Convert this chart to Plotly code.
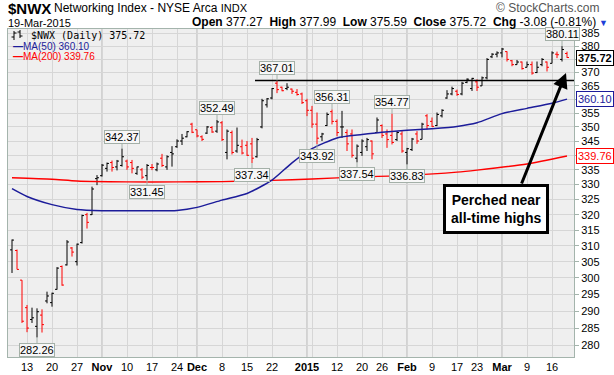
import math
import plotly.graph_objects as go

# ---------------- data ----------------
dates = [
    "2014-10-08", "2014-10-09", "2014-10-10", "2014-10-13", "2014-10-14", "2014-10-15", "2014-10-16",
    "2014-10-17", "2014-10-20", "2014-10-21", "2014-10-22", "2014-10-23", "2014-10-24", "2014-10-27",
    "2014-10-28", "2014-10-29", "2014-10-30", "2014-10-31",
    "2014-11-03", "2014-11-04", "2014-11-05", "2014-11-06", "2014-11-07", "2014-11-10", "2014-11-11",
    "2014-11-12", "2014-11-13", "2014-11-14", "2014-11-17", "2014-11-18", "2014-11-19", "2014-11-20",
    "2014-11-21", "2014-11-24", "2014-11-25", "2014-11-26", "2014-11-28",
    "2014-12-01", "2014-12-02", "2014-12-03", "2014-12-04", "2014-12-05", "2014-12-08", "2014-12-09",
    "2014-12-10", "2014-12-11", "2014-12-12", "2014-12-15", "2014-12-16", "2014-12-17", "2014-12-18",
    "2014-12-19", "2014-12-22", "2014-12-23", "2014-12-24", "2014-12-26", "2014-12-29", "2014-12-30",
    "2014-12-31",
    "2015-01-02", "2015-01-05", "2015-01-06", "2015-01-07", "2015-01-08", "2015-01-09", "2015-01-12",
    "2015-01-13", "2015-01-14", "2015-01-15", "2015-01-16", "2015-01-20", "2015-01-21", "2015-01-22",
    "2015-01-23", "2015-01-26", "2015-01-27", "2015-01-28", "2015-01-29", "2015-01-30",
    "2015-02-02", "2015-02-03", "2015-02-04", "2015-02-05", "2015-02-06", "2015-02-09", "2015-02-10",
    "2015-02-11", "2015-02-12", "2015-02-13", "2015-02-17", "2015-02-18", "2015-02-19", "2015-02-20",
    "2015-02-23", "2015-02-24", "2015-02-25", "2015-02-26", "2015-02-27",
    "2015-03-02", "2015-03-03", "2015-03-04", "2015-03-05", "2015-03-06", "2015-03-09", "2015-03-10",
    "2015-03-11", "2015-03-12", "2015-03-13", "2015-03-16", "2015-03-17", "2015-03-18", "2015-03-19",
]

opens = [
    308.7, 308.5, 299.3, 291.0, 287.5, 285.5, 288.8, 293.0, 292.5, 296.5, 303.5, 304.0, 309.3, 305.0,
    311.0, 320.0, 320.0, 332.0,
    333.0, 335.5, 337.5, 336.0, 336.5, 338.0, 337.5, 333.8, 335.0, 333.0, 335.8, 335.0, 339.0, 336.0,
    341.0, 343.0, 345.0, 346.5, 351.0,
    349.0, 346.5, 347.8, 349.8, 348.5, 351.5, 341.0, 348.0, 341.5, 343.0, 343.5, 344.0, 339.5, 350.0,
    358.0, 360.5, 366.0, 364.5, 364.0, 363.8, 362.6, 362.0,
    359.5, 356.0, 351.0, 346.5, 350.5, 355.5, 352.0, 350.0, 348.0, 347.5, 339.0, 341.0, 343.0, 345.0,
    348.0, 350.5, 347.5, 347.0, 345.5, 347.5,
    341.0, 342.0, 347.5, 345.6, 354.0, 352.0, 350.5, 354.0, 360.5, 362.0, 363.0, 362.0, 366.3, 364.0,
    366.5, 365.0, 368.0, 376.0, 377.0,
    377.5, 378.0, 374.5, 373.0, 374.0, 372.0, 373.0, 370.0, 373.0, 374.0, 373.5, 377.0, 375.0, 377.27,
]
highs = [
    312.0, 308.8, 299.3, 291.8, 291.0, 290.8, 290.5, 295.8, 295.5, 303.3, 303.8, 311.8, 309.6, 310.7,
    320.0, 320.6, 329.3, 333.2,
    337.0, 337.5, 338.2, 338.4, 342.37, 338.5, 338.4, 336.1, 335.6, 337.0, 337.0, 337.5, 340.5, 340.0,
    343.2, 345.6, 347.5, 348.5, 351.5,
    349.0, 347.0, 350.3, 350.3, 352.49, 352.1, 349.1, 348.7, 349.8, 345.5, 345.0, 346.1, 346.1, 360.2,
    360.5, 364.2, 367.01, 364.7, 366.0, 364.0, 363.8, 362.5,
    360.2, 357.6, 355.2, 347.9, 355.2, 356.31, 352.7, 355.8, 349.1, 349.1, 343.8, 345.6, 346.1, 345.2,
    353.4, 350.9, 349.1, 354.77, 348.5, 348.5,
    342.6, 346.1, 348.5, 351.5, 354.6, 353.4, 355.2, 356.4, 363.4, 364.7, 363.6, 366.5, 367.8, 368.0,
    367.4, 368.5, 375.5, 377.4, 378.1,
    379.4, 378.1, 374.8, 374.8, 374.2, 374.2, 374.2, 374.2, 375.5, 374.2, 378.1, 378.0, 380.11, 377.99,
]
lows = [
    301.5, 302.6, 286.5, 283.8, 286.5, 282.26, 283.7, 292.3, 291.3, 296.4, 297.6, 303.8, 306.6, 303.8,
    310.7, 315.5, 319.9, 329.8,
    332.7, 334.4, 334.4, 334.8, 336.1, 335.0, 333.8, 333.3, 331.8, 331.45, 334.9, 334.5, 336.0, 335.0,
    336.1, 342.6, 343.6, 346.3, 347.8,
    346.3, 345.0, 347.5, 347.9, 347.9, 345.0, 338.6, 340.3, 340.9, 340.3, 339.8, 337.34, 339.2, 349.5,
    357.0, 360.0, 362.3, 363.0, 363.4, 362.0, 361.4, 358.3,
    353.9, 349.7, 343.92, 345.0, 350.3, 350.9, 346.7, 346.1, 341.5, 339.2, 337.54, 339.8, 341.5, 338.6,
    347.9, 346.1, 342.6, 343.8, 345.0, 340.9,
    336.83, 341.5, 344.0, 345.6, 349.1, 350.0, 350.3, 353.4, 360.2, 361.5, 361.3, 361.5, 366.0, 363.1,
    363.1, 365.0, 367.4, 375.5, 375.8,
    375.8, 374.2, 372.4, 373.0, 371.1, 372.0, 369.2, 369.8, 372.4, 370.4, 373.5, 375.5, 374.2, 375.59,
]
closes = [
    311.8, 302.6, 287.0, 285.0, 288.0, 289.8, 286.0, 294.5, 295.3, 303.0, 297.8, 311.2, 308.0, 310.5,
    319.7, 317.5, 328.5, 332.3,
    336.6, 337.2, 335.8, 338.0, 339.5, 336.0, 335.5, 336.0, 332.5, 336.5, 335.8, 337.0, 336.5, 339.5,
    340.5, 345.0, 346.0, 348.3, 348.1,
    346.8, 345.6, 350.0, 348.2, 351.8, 345.5, 348.5, 341.0, 343.5, 340.8, 340.0, 339.0, 345.5, 359.5,
    360.2, 364.0, 363.6, 363.2, 364.5, 363.0, 361.8, 358.8,
    356.0, 351.0, 346.0, 347.5, 354.5, 352.0, 348.0, 350.0, 344.0, 340.0, 343.2, 345.0, 345.5, 340.5,
    352.5, 347.0, 345.5, 344.5, 348.0, 341.5,
    342.3, 345.7, 345.0, 351.0, 350.5, 350.2, 354.5, 356.0, 362.0, 364.0, 361.8, 366.0, 367.5, 367.8,
    364.5, 368.0, 375.0, 377.0, 377.5,
    379.0, 375.0, 373.0, 374.0, 371.5, 373.0, 369.8, 372.0, 375.0, 372.0, 377.5, 376.8, 378.8, 375.72,
]

ma50_dates = ["2014-10-08", "2014-10-13", "2014-10-20", "2014-10-27", "2014-11-03", "2014-11-10",
              "2014-11-17", "2014-11-24", "2014-12-01", "2014-12-08", "2014-12-15", "2014-12-22",
              "2014-12-29", "2015-01-05", "2015-01-12", "2015-01-20", "2015-01-26", "2015-02-02",
              "2015-02-09", "2015-02-17", "2015-02-23", "2015-03-02", "2015-03-09", "2015-03-16",
              "2015-03-19"]
ma50_vals = [328.6, 326.0, 323.3, 321.7, 321.3, 321.3, 321.3, 321.4, 322.4, 324.8, 327.0, 331.5,
             337.4, 342.3, 346.1, 347.3, 348.1, 348.8, 349.4, 350.2, 351.5, 354.8, 356.7, 358.6,
             360.10]

ma200_dates = ["2014-10-08", "2014-10-20", "2014-10-27", "2014-11-10", "2014-11-24", "2014-12-08",
               "2014-12-22", "2015-01-05", "2015-01-20", "2015-02-02", "2015-02-17", "2015-02-23",
               "2015-03-09", "2015-03-19"]
ma200_vals = [332.3, 331.8, 331.2, 330.9, 330.9, 331.0, 331.4, 331.9, 332.6, 333.1, 334.2, 334.9,
              337.0, 339.76]

tick_dates = ["2014-10-13", "2014-10-20", "2014-10-27", "2014-11-03", "2014-11-10", "2014-11-17",
              "2014-11-24", "2014-12-01", "2014-12-08", "2014-12-15", "2014-12-22", "2015-01-02",
              "2015-01-05", "2015-01-12", "2015-01-20", "2015-01-26", "2015-02-02", "2015-02-09",
              "2015-02-17", "2015-02-23", "2015-03-02", "2015-03-09", "2015-03-16"]
tick_text = ["13", "20", "27", "<b>Nov</b>", "10", "17", "24", "<b>Dec</b>", "8", "15", "22",
             "<b>2015</b>", "", "12", "20", "26", "<b>Feb</b>", "9", "17", "23", "<b>Mar</b>", "9", "16"]
month_dates = ["2014-11-03", "2014-12-01", "2015-01-02", "2015-02-02", "2015-03-02"]

y_ticks = list(range(280, 390, 5))
y_ticks_hidden = [340, 360, 375]   # covered by the value tags

high_labels = [("2014-11-07", 342.37), ("2014-12-05", 352.49), ("2014-12-23", 367.01),
               ("2015-01-09", 356.31), ("2015-01-28", 354.77), ("2015-03-18", 380.11)]
low_labels = [("2014-10-15", 282.26), ("2014-11-14", 331.45), ("2014-12-16", 337.34),
              ("2015-01-06", 343.92), ("2015-01-16", 337.54), ("2015-02-02", 336.83)]

resistance_level = 367.01
resistance_start = "2014-12-17"

last_close, ma50_last, ma200_last = 375.72, 360.10, 339.76

# ---------------- figure ----------------
FONT = "Liberation Sans, Arial, sans-serif"
W, H = 614, 375
ML, MR, MT, MB = 8, 40, 29, 18
plot_h = H - MT - MB
x_range = [-0.8, 112.4]
y_range = [math.log10(276.7), math.log10(386.83)]

n = len(dates)
up_idx, dn_idx = [], []
for i in range(n):
    prev = closes[i - 1] if i > 0 else opens[i]
    (up_idx if closes[i] >= prev else dn_idx).append(i)


def ohlc_trace(idx, color):
    return go.Ohlc(
        x=[dates[i] for i in idx], open=[opens[i] for i in idx], high=[highs[i] for i in idx],
        low=[lows[i] for i in idx], close=[closes[i] for i in idx],
        increasing=dict(line=dict(color=color, width=1)),
        decreasing=dict(line=dict(color=color, width=1)),
        tickwidth=0.4, hoverinfo="skip", showlegend=False,
    )


fig = go.Figure()
fig.add_trace(go.Scatter(x=ma200_dates, y=ma200_vals, mode="lines",
                         line=dict(color="#ff0000", width=1.4, shape="spline", smoothing=0.6),
                         hoverinfo="skip", showlegend=False))
fig.add_trace(go.Scatter(x=ma50_dates, y=ma50_vals, mode="lines",
                         line=dict(color="#1c1c9a", width=1.5, shape="spline", smoothing=0.6),
                         hoverinfo="skip", showlegend=False))
fig.add_trace(ohlc_trace(up_idx, "#000000"))
fig.add_trace(ohlc_trace(dn_idx, "#ff0000"))


def py(ypx):
    return (H - MB - ypx) / plot_h


def px(xpx):
    return (xpx - ML) / (W - ML - MR)


shapes = []
for d in month_dates:
    xi = dates.index(d)
    shapes.append(dict(type="line", xref="x", yref="paper", x0=xi, x1=xi, y0=0, y1=1,
                       line=dict(color="#b4b4b4", width=1), layer="below"))
shapes.append(dict(type="line", xref="x", yref="y", x0=dates.index(resistance_start) - 0.4,
                   x1=x_range[1], y0=resistance_level, y1=resistance_level,
                   line=dict(color="#000000", width=1.5)))
# small OHLC icon in the in-plot legend
for (xc, top, bot, lt, rt) in [(14, 31, 40, 37, 33), (20, 30, 38, 32, 36)]:
    for seg in [(xc, top, xc, bot), (xc - 2.5, lt, xc, lt), (xc, rt, xc + 2.5, rt)]:
        shapes.append(dict(type="line", xref="paper", yref="paper",
                           x0=px(seg[0]), y0=py(seg[1]), x1=px(seg[2]), y1=py(seg[3]),
                           line=dict(color="#000", width=1)))

LBL_BORDER = "#a4b0a8"
ann = []
for d, v in high_labels:
    ann.append(dict(x=d, y=math.log10(v), xref="x", yref="y", text=f"{v:.2f}", showarrow=True,
                    arrowhead=0, arrowwidth=1, arrowcolor=LBL_BORDER, ax=0, ay=-12,
                    font=dict(family=FONT, size=11, color="#000"), bgcolor="#f7f7f7",
                    bordercolor=LBL_BORDER, borderwidth=1, borderpad=0))
for d, v in low_labels:
    ann.append(dict(x=d, y=math.log10(v), xref="x", yref="y", text=f"{v:.2f}", showarrow=True,
                    arrowhead=0, arrowwidth=1, arrowcolor=LBL_BORDER, ax=0, ay=12,
                    font=dict(family=FONT, size=11, color="#000"), bgcolor="#f7f7f7",
                    bordercolor=LBL_BORDER, borderwidth=1, borderpad=0))

# right-hand value tags
for v, col, bold in [(last_close, "#000000", True), (ma50_last, "#1c1c9a", False),
                     (ma200_last, "#ff0000", False)]:
    txt = f"<b>{v:.2f}</b>" if bold else f"{v:.2f}"
    ann.append(dict(x=1, xref="paper", y=math.log10(v), yref="y", xanchor="left", xshift=2,
                    text=txt, showarrow=False, font=dict(family=FONT, size=11, color=col),
                    bgcolor="#ffffff", bordercolor=col, borderwidth=1, borderpad=1))

# header
ann += [
    dict(x=px(7), y=py(8), xref="paper", yref="paper", xanchor="left", yanchor="middle",
         text="<b>$NWX</b>", showarrow=False, font=dict(family=FONT, size=15, color="#000"),
         borderpad=0),
    dict(x=px(53), y=py(8), xref="paper", yref="paper", xanchor="left", yanchor="middle",
         text="Networking Index - NYSE Arca <span style='font-size:11px'>INDX</span>",
         showarrow=False, font=dict(family=FONT, size=12, color="#000"), borderpad=0),
    dict(x=px(601), y=py(8), xref="paper", yref="paper", xanchor="right", yanchor="middle",
         text="© StockCharts.com", showarrow=False, font=dict(family=FONT, size=12, color="#555"),
         borderpad=0),
    dict(x=px(7), y=py(22.5), xref="paper", yref="paper", xanchor="left", yanchor="middle",
         text="19-Mar-2015", showarrow=False, font=dict(family=FONT, size=11, color="#000"),
         borderpad=0),
    dict(x=px(597), y=py(22), xref="paper", yref="paper", xanchor="right", yanchor="middle",
         text="<b>Open</b> 377.27  <b>High</b> 377.99  <b>Low</b> 375.59  <b>Close</b> 375.72  "
              "<b>Chg</b> -3.08 (-0.81%)",
         showarrow=False, font=dict(family=FONT, size=12, color="#000"), borderpad=0),
    dict(x=px(598), y=py(22.5), xref="paper", yref="paper", xanchor="left", yanchor="middle",
         text="▼", showarrow=False, font=dict(family=FONT, size=9, color="#1f3fd8"), borderpad=0),
    # in-plot legend
    dict(x=px(29), y=py(35), xref="paper", yref="paper", xanchor="left", yanchor="middle",
         text="$NWX (Daily) 375.72", showarrow=False,
         font=dict(family="DejaVu Sans Mono, monospace", size=10, color="#000")),
    dict(x=px(11), y=py(46), xref="paper", yref="paper", xanchor="left", yanchor="middle",
         text="<b>—</b>MA(50) 360.10", showarrow=False,
         font=dict(family=FONT, size=10, color="#1c1c9a")),
    dict(x=px(11), y=py(57), xref="paper", yref="paper", xanchor="left", yanchor="middle",
         text="<b>—</b>MA(200) 339.76", showarrow=False,
         font=dict(family=FONT, size=10, color="#ff0000")),
    # callout
    dict(x=px(566), y=py(73), xref="paper", yref="paper", text="", showarrow=True,
         arrowhead=2, arrowsize=1, arrowwidth=3, arrowcolor="#000", ax=-45, ay=112, standoff=0),
    dict(x=px(496), y=py(209), xref="paper", yref="paper", xanchor="center", yanchor="middle",
         text="<b>Perched near<br>all-time highs</b>", showarrow=False,
         font=dict(family=FONT, size=14, color="#000"), bgcolor="#ffffff",
         bordercolor="#000", borderwidth=3, borderpad=5),
]

fig.update_layout(
    width=W, height=H, margin=dict(l=ML, r=MR, t=MT, b=MB, autoexpand=False),
    paper_bgcolor="#ffffff", plot_bgcolor="#efefef",
    showlegend=False, shapes=shapes, annotations=ann,
    xaxis=dict(type="category", categoryorder="array", categoryarray=dates, range=x_range,
               tickmode="array", tickvals=tick_dates, ticktext=tick_text, automargin=False,
               showgrid=True, gridcolor="#d6d6d6", gridwidth=1, ticks="",
               tickfont=dict(family=FONT, size=11, color="#000"),
               showline=True, mirror=True, linecolor="#a4b4ac", linewidth=1,
               rangeslider=dict(visible=False), zeroline=False, fixedrange=True),
    yaxis=dict(type="log", side="right", range=y_range, tickmode="array", tickvals=y_ticks,
               ticktext=["" if v in y_ticks_hidden else str(v) for v in y_ticks],
               automargin=False, showgrid=True, gridcolor="#d6d6d6",
               ticks="outside", ticklen=4, tickcolor="#a4b4ac",
               tickfont=dict(family=FONT, size=11, color="#000"),
               showline=True, mirror=True, linecolor="#a4b4ac", linewidth=1, zeroline=False,
               fixedrange=True),
)

fig.write_html("out.html", config={"displayModeBar": False},
               post_script="document.body.style.margin='0';document.body.style.padding='0';")
